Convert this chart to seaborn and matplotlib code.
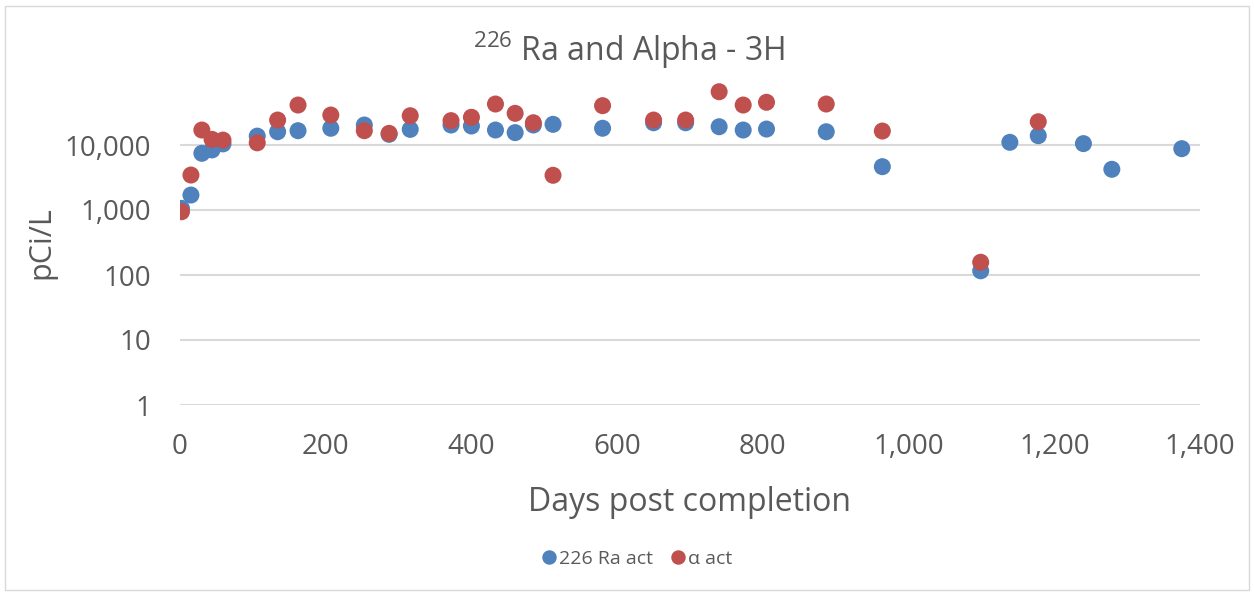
import numpy as np
import pandas as pd
import matplotlib
matplotlib.use("Agg")
import matplotlib.pyplot as plt
import matplotlib.ticker as mticker
from matplotlib.patches import Rectangle
import seaborn as sns

# Данные
ra_days = [2, 15, 30, 44, 59, 106, 134, 162, 207, 253, 287, 316,
           372, 400, 433, 460, 485, 512, 580, 650, 694,
           740, 773, 805, 887, 964,
           1099, 1139, 1178, 1240, 1279, 1375]
ra_act = [1060, 1700, 7450, 8400, 10400, 13700, 16000, 16600, 18100, 20300, 14600, 17400,
          20300, 19600, 17000, 15500, 20300, 20800, 18100, 22000, 22000,
          19100, 17000, 17600, 16000, 4640,
          116, 11000, 13900, 10500, 4230, 8780]

alpha_days = [2, 15, 30, 44, 59, 106, 134, 162, 207, 253, 287, 316,
              372, 400, 433, 460, 485, 512, 580, 650, 694,
              740, 773, 805, 887, 964,
              1099, 1178]
alpha_act = [940, 3450, 17000, 12200, 11900, 10800, 24200, 41200, 28900, 16600, 15100, 28200,
             23700, 26700, 42700, 30700, 22000, 3420, 40300, 24200, 24200,
             66000, 41200, 45400, 42700, 16400,
             157, 22800]

series_names = ["226 Ra act", "\u03b1 act"]
colors = ["#4F81BD", "#C0504D"]

df = pd.concat([
    pd.DataFrame({"days": ra_days, "act": ra_act, "series": series_names[0]}),
    pd.DataFrame({"days": alpha_days, "act": alpha_act, "series": series_names[1]}),
], ignore_index=True)

sns.set_style("white")
plt.rcParams["font.family"] = ["Open Sans", "DejaVu Sans"]
plt.rcParams["mathtext.fontset"] = "custom"
plt.rcParams["mathtext.rm"] = "Open Sans"
plt.rcParams["mathtext.it"] = "Open Sans"
plt.rcParams["mathtext.bf"] = "Open Sans"

grey = "#595959"

fig = plt.figure(figsize=(12.54, 5.92), dpi=100)
ax = fig.add_axes([180 / 1254, 1 - 405 / 592, 1020 / 1254, 325 / 592])

sns.scatterplot(data=df, x="days", y="act", hue="series", hue_order=series_names,
                palette=colors, s=150, linewidth=0, ax=ax)

ax.set_yscale("log")
ax.set_ylim(1, 1e5)
ax.set_xlim(0, 1400)
ax.set_yticks([1, 10, 100, 1000, 10000])
ax.yaxis.set_minor_locator(mticker.NullLocator())
ax.set_xticks(np.arange(0, 1401, 200))
fmt = mticker.FuncFormatter(lambda v, p: "{:,.0f}".format(v))
ax.yaxis.set_major_formatter(fmt)
ax.xaxis.set_major_formatter(fmt)

ax.grid(axis="y", color="#D9D9D9", linewidth=1.5)
ax.set_axisbelow(True)
for sp in ax.spines.values():
    sp.set_visible(False)
ax.tick_params(length=0, labelsize=20, colors=grey)
ax.tick_params(axis="y", pad=21)
ax.tick_params(axis="x", pad=20)

ax.set_xlabel("Days post completion", fontsize=23, color=grey, labelpad=18)
ax.set_ylabel("pCi/L", fontsize=22, color=grey, labelpad=6)

fig.text(0.502, 1 - 50 / 592, r"$^{226}$ Ra and Alpha - 3H", fontsize=23,
         color=grey, ha="center", va="center")

handles, labels = ax.get_legend_handles_labels()
ax.get_legend().remove()
fig.legend(handles, labels, loc="center", bbox_to_anchor=(0.508, 1 - 559 / 592),
           ncol=2, frameon=False, fontsize=14, labelcolor=grey, markerscale=0.85,
           handlelength=0.8, handletextpad=0.1, columnspacing=0.9)

fig.patches.append(Rectangle((5 / 1254, 2 / 592), 1244 / 1254, 584 / 592,
                             transform=fig.transFigure, fill=False,
                             edgecolor="#D9D9D9", linewidth=1))

fig.savefig("out.png", dpi=100)
